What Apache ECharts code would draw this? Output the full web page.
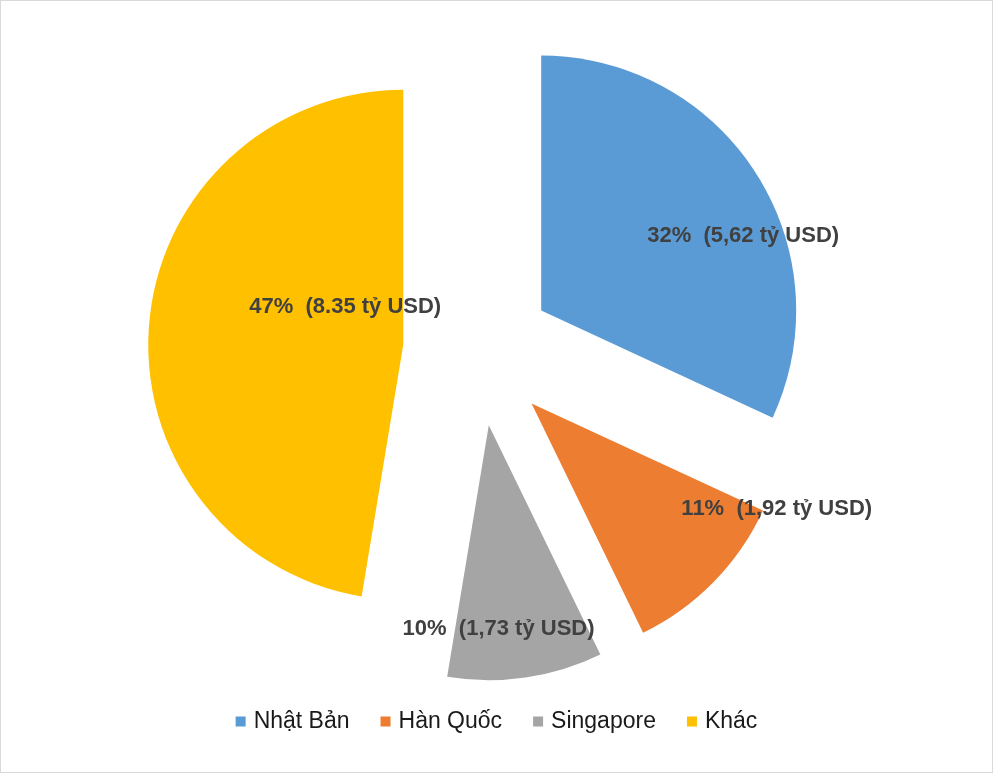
<!DOCTYPE html>
<html lang="vi">
<head>
    <meta charset="UTF-8">
    <title>Pie</title>
    <style>
        html, body { margin: 0; padding: 0; background: #fff; }
        #main {
            width: 993px;
            height: 773px;
            box-sizing: border-box;
            border: 1px solid #d9d9d9;
            background-color: #fff;
        }
    </style>
</head>
<body>
<div id="main"></div>
<script src="https://cdn.jsdelivr.net/npm/echarts@6/dist/echarts.min.js"></script>
<script>
    const names = ['Nhật Bản', 'Hàn Quốc', 'Singapore', 'Khác'];
    const values = [5.62, 1.92, 1.73, 8.35];
    const valueTexts = ['5,62', '1,92', '1,73', '8.35'];
    const colors = ['#5b9bd5', '#ed7d31', '#a5a5a5', '#ffc000'];

    // label shifts relative to the default inside position
    const labelShift = [[92, -4], [152, 14], [-9, 75], [72, -27]];

    const myChart = echarts.init(document.getElementById('main'));

    const option = {
        animation: false,
        color: colors,
        legend: {
            top: 704,
            left: 'center',
            icon: 'rect',
            itemWidth: 10,
            itemHeight: 10,
            itemGap: 31,
            textStyle: {
                fontFamily: 'Liberation Sans, Arial, sans-serif',
                fontSize: 23,
                color: '#1a1a1a',
                padding: [0, 0, 0, 3]
            },
            selectedMode: false,
            data: names
        },
        series: [{
            type: 'pie',
            center: [477, 350],
            radius: 255,
            startAngle: 90,
            clockwise: true,
            selectedMode: 'multiple',
            selectedOffset: 75,
            silent: true,
            itemStyle: { borderWidth: 0 },
            select: { itemStyle: { borderWidth: 0 } },
            label: {
                position: 'inside',
                fontFamily: 'Liberation Sans, Arial, sans-serif',
                fontSize: 22,
                fontWeight: 'bold',
                color: '#404040',
                formatter: p => Math.round(p.percent) + '%  (' + valueTexts[p.dataIndex] + ' tỷ USD)'
            },
            labelLine: { show: false },
            labelLayout: p => ({ dx: labelShift[p.dataIndex][0], dy: labelShift[p.dataIndex][1] }),
            data: names.map((n, i) => ({
                name: n,
                value: values[i],
                selected: true,
                select: { itemStyle: { color: colors[i] } }
            }))
        }]
    };

    myChart.setOption(option);
</script>
</body>
</html>
